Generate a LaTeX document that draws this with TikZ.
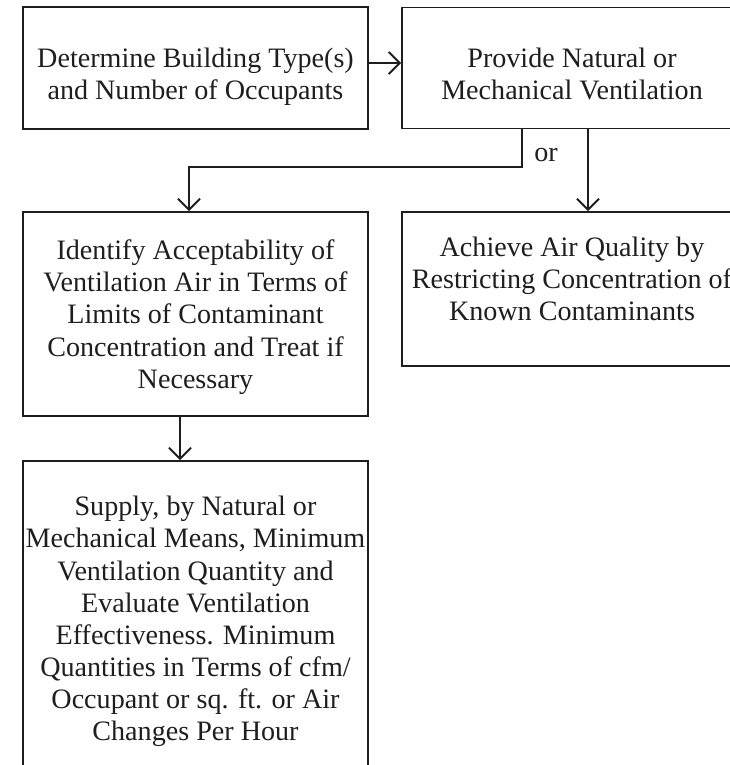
\documentclass[tikz,border=0pt]{standalone}
\usepackage{fontspec}
\setmainfont{Liberation Serif}
\usepackage{tikz}
\usetikzlibrary{arrows.meta,calc,positioning}
\definecolor{flowblack}{RGB}{30,30,30}

\begin{document}
\begin{tikzpicture}[x=0.02cm,y=-0.02cm,>={Straight Barb[length=2.2mm,width=4.4mm]},line cap=round,
 box/.style={draw=flowblack,line width=1.1pt,rectangle,inner sep=0pt},
 txt/.style={align=center,inner sep=0pt,font=\fontsize{16}{18.3}\selectfont,text=flowblack},
 flow/.style={->,draw=flowblack,line width=1.1pt}]
\useasboundingbox (0,0) rectangle (730,765);
\clip (0,0) rectangle (730,765);
\node[box,minimum width=6.9cm,minimum height=2.44cm,
 label={[txt,yshift=-0.18cm]center:{Determine Building Type(s)\\and Number of Occupants}}]
 (determine) at (195.5,68) {};
\node[box,minimum width=6.8cm,minimum height=2.42cm,
 label={[txt,yshift=-0.12cm]center:{Provide Natural or\\Mechanical Ventilation}}]
 (provide) at (572,68) {};
\node[box,minimum width=6.9cm,minimum height=4.08cm,
 label={[txt,yshift=-0.06cm]center:{Identify Acceptability of\\Ventilation Air in Terms of\\Limits of Contaminant\\Concentration and Treat if\\Necessary}}]
 (identify) at (195.5,314) {};
\node[box,minimum width=6.8cm,minimum height=3.08cm,
 label={[txt,yshift=0.2cm]center:{Achieve Air Quality by\\Restricting Concentration of\\Known Contaminants}}]
 (achieve) at (572,289) {};
\node[box,minimum width=6.9cm,minimum height=6.32cm,
 label={[txt,yshift=-0.05cm]center:{Supply, by Natural or\\Mechanical Means, Minimum\\Ventilation Quantity and\\Evaluate Ventilation\\Effectiveness. Minimum\\Quantities in Terms of cfm/\\Occupant or sq. ft. or Air\\Changes Per Hour}}]
 (supply) at (195.5,619) {};
\coordinate (orbend) at (522,167);
\draw[flow] ([yshift=0.1cm]determine.east) -- ([yshift=0.1cm]provide.west);
\draw[flow] (provide.south -| orbend) -- (orbend) -| ([xshift=-0.13cm]identify.north);
\node[txt] (orlabel) at (546,155) {or};
\draw[flow] ([xshift=0.32cm]provide.south) -- ([xshift=0.32cm]achieve.north);
\draw[flow] ([xshift=-0.31cm]identify.south) -- ([xshift=-0.31cm]supply.north);
\end{tikzpicture}
\end{document}
